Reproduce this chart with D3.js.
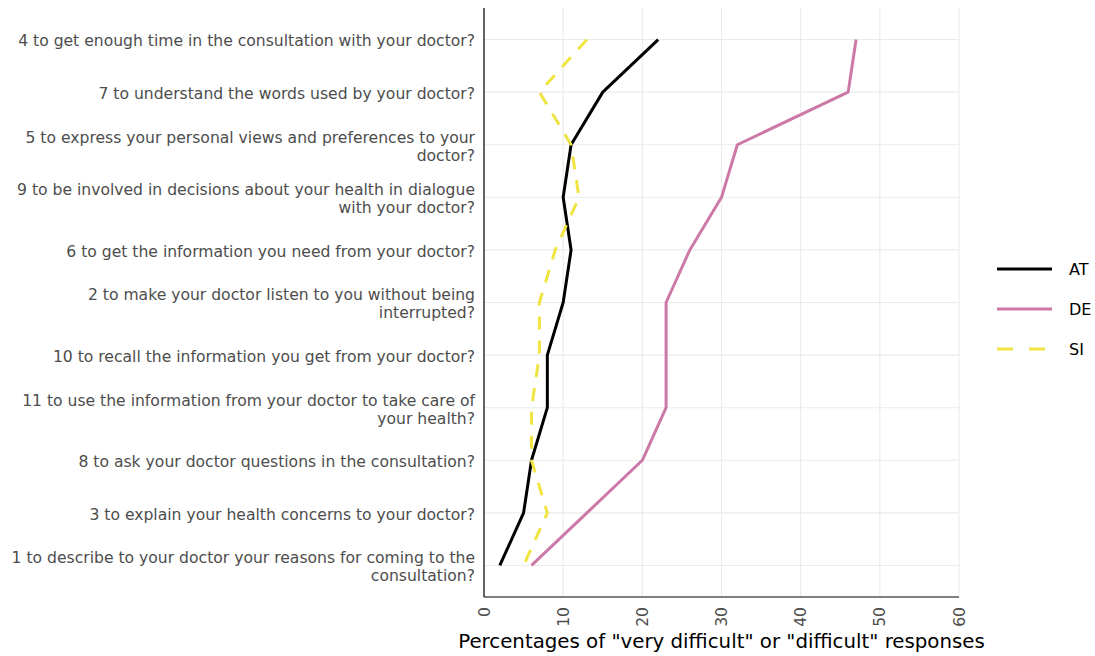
<!DOCTYPE html>
<html>
<head>
<meta charset="utf-8">
<script src="https://cdn.jsdelivr.net/npm/d3@7"></script>
<style>
  html, body { margin: 0; padding: 0; background: #fff; }
  svg { display: block; }
  text { font-family: "DejaVu Sans", sans-serif; }
</style>
</head>
<body>
<svg id="chart" width="1095" height="656"></svg>
<script>
// Survey items, listed from top of the chart to bottom
const items = [
  "4 to get enough time in the consultation with your doctor?",
  "7 to understand the words used by your doctor?",
  "5 to express your personal views and preferences to your|doctor?",
  "9 to be involved in decisions about your health in dialogue|with your doctor?",
  "6 to get the information you need from your doctor?",
  "2 to make your doctor listen to you without being|interrupted?",
  "10 to recall the information you get from your doctor?",
  "11 to use the information from your doctor to take care of|your health?",
  "8 to ask your doctor questions in the consultation?",
  "3 to explain your health concerns to your doctor?",
  "1 to describe to your doctor your reasons for coming to the|consultation?"
];

// Percentages of "very difficult" or "difficult" responses per country
const valuesAT = [22, 15, 11, 10, 11, 10, 8, 8, 6, 5, 2];
const valuesDE = [47, 46, 32, 30, 26, 23, 23, 23, 20, 13, 6];
const valuesSI = [13, 7, 11, 12, 9, 7, 7, 6, 6, 8, 5];

const countries = ["AT", "DE", "SI"];
const xTicks = [0, 10, 20, 30, 40, 50, 60];

const series = [
  { name: countries[0], values: valuesAT, color: "#000000", dash: null },
  { name: countries[1], values: valuesDE, color: "#CC79A7", dash: null },
  { name: countries[2], values: valuesSI, color: "#F0E442", dash: "13,11" }
];

const svg = d3.select("#chart");
const plotL = 484, plotR = 959, plotT = 8, plotB = 597;

const x = d3.scaleLinear().domain([0, 60]).range([plotL, plotR]);
const y = d3.scalePoint().domain(items).range([plotT, plotB]).padding(0.6);

// Gridlines
const grid = svg.append("g");
grid.selectAll("line.vx").data(xTicks).join("line")
  .attr("class", "vx")
  .attr("x1", d => x(d)).attr("x2", d => x(d))
  .attr("y1", plotT).attr("y2", plotB)
  .attr("stroke", "#ebebeb").attr("stroke-width", 1.1);
grid.selectAll("line.hy").data(items).join("line")
  .attr("class", "hy")
  .attr("x1", plotL).attr("x2", plotR)
  .attr("y1", d => y(d)).attr("y2", d => y(d))
  .attr("stroke", "#ebebeb").attr("stroke-width", 1.1);

// Lines
const line = d3.line()
  .x(d => x(d.v))
  .y(d => y(d.item));

series.forEach(s => {
  const pts = items.map((item, i) => ({ item, v: s.values[i] }));
  svg.append("path")
    .datum(pts)
    .attr("d", line)
    .attr("fill", "none")
    .attr("stroke", s.color)
    .attr("stroke-width", 3)
    .attr("stroke-dasharray", s.dash)
    .attr("stroke-linejoin", "round");
});

// Axis lines
svg.append("line").attr("x1", plotL).attr("x2", plotL).attr("y1", plotT).attr("y2", plotB)
  .attr("stroke", "#000").attr("stroke-width", 1.2);
svg.append("line").attr("x1", plotL).attr("x2", plotR).attr("y1", plotB).attr("y2", plotB)
  .attr("stroke", "#000").attr("stroke-width", 1.2);

// X tick labels (rotated)
const xAxis = svg.append("g").attr("transform", `translate(0,${plotB})`)
  .call(d3.axisBottom(x).tickValues(xTicks).tickSize(0).tickPadding(0));
xAxis.select(".domain").remove();
xAxis.selectAll("text")
  .attr("x", 0).attr("y", 0).attr("dy", null)
  .attr("text-anchor", "end")
  .attr("dominant-baseline", "central")
  .attr("transform", "translate(0,10) rotate(-90)")
  .attr("fill", "#4d4d4d").attr("font-size", 15.6)
  .attr("font-family", "DejaVu Sans, sans-serif");

// Y labels (wrapped onto two lines where needed)
const yLab = svg.append("g");
items.forEach(item => {
  const parts = item.split("|");
  const lh = 18;
  const t = yLab.append("text")
    .attr("text-anchor", "end")
    .attr("fill", "#4d4d4d")
    .attr("font-size", 15.6);
  parts.forEach((p, i) => {
    t.append("tspan")
      .attr("x", 475)
      .attr("y", y(item) + (i - (parts.length - 1) / 2) * lh)
      .attr("dy", "0.44em")
      .text(p);
  });
});

// Axis title
svg.append("text")
  .attr("x", (plotL + plotR) / 2)
  .attr("y", 648)
  .attr("text-anchor", "middle")
  .attr("font-size", 19.8)
  .attr("fill", "#000")
  .text('Percentages of "very difficult" or "difficult" responses');

// Legend
const legend = svg.append("g");
series.forEach((s, i) => {
  const ly = 269 + i * 40;
  legend.append("line")
    .attr("x1", 997).attr("x2", 1052)
    .attr("y1", ly).attr("y2", ly)
    .attr("stroke", s.color).attr("stroke-width", 3)
    .attr("stroke-dasharray", s.dash ? "16,16" : null);
  legend.append("text")
    .attr("x", 1069).attr("y", ly)
    .attr("dy", "0.35em")
    .attr("font-size", 16)
    .attr("fill", "#000")
    .text(s.name);
});
</script>
</body>
</html>
